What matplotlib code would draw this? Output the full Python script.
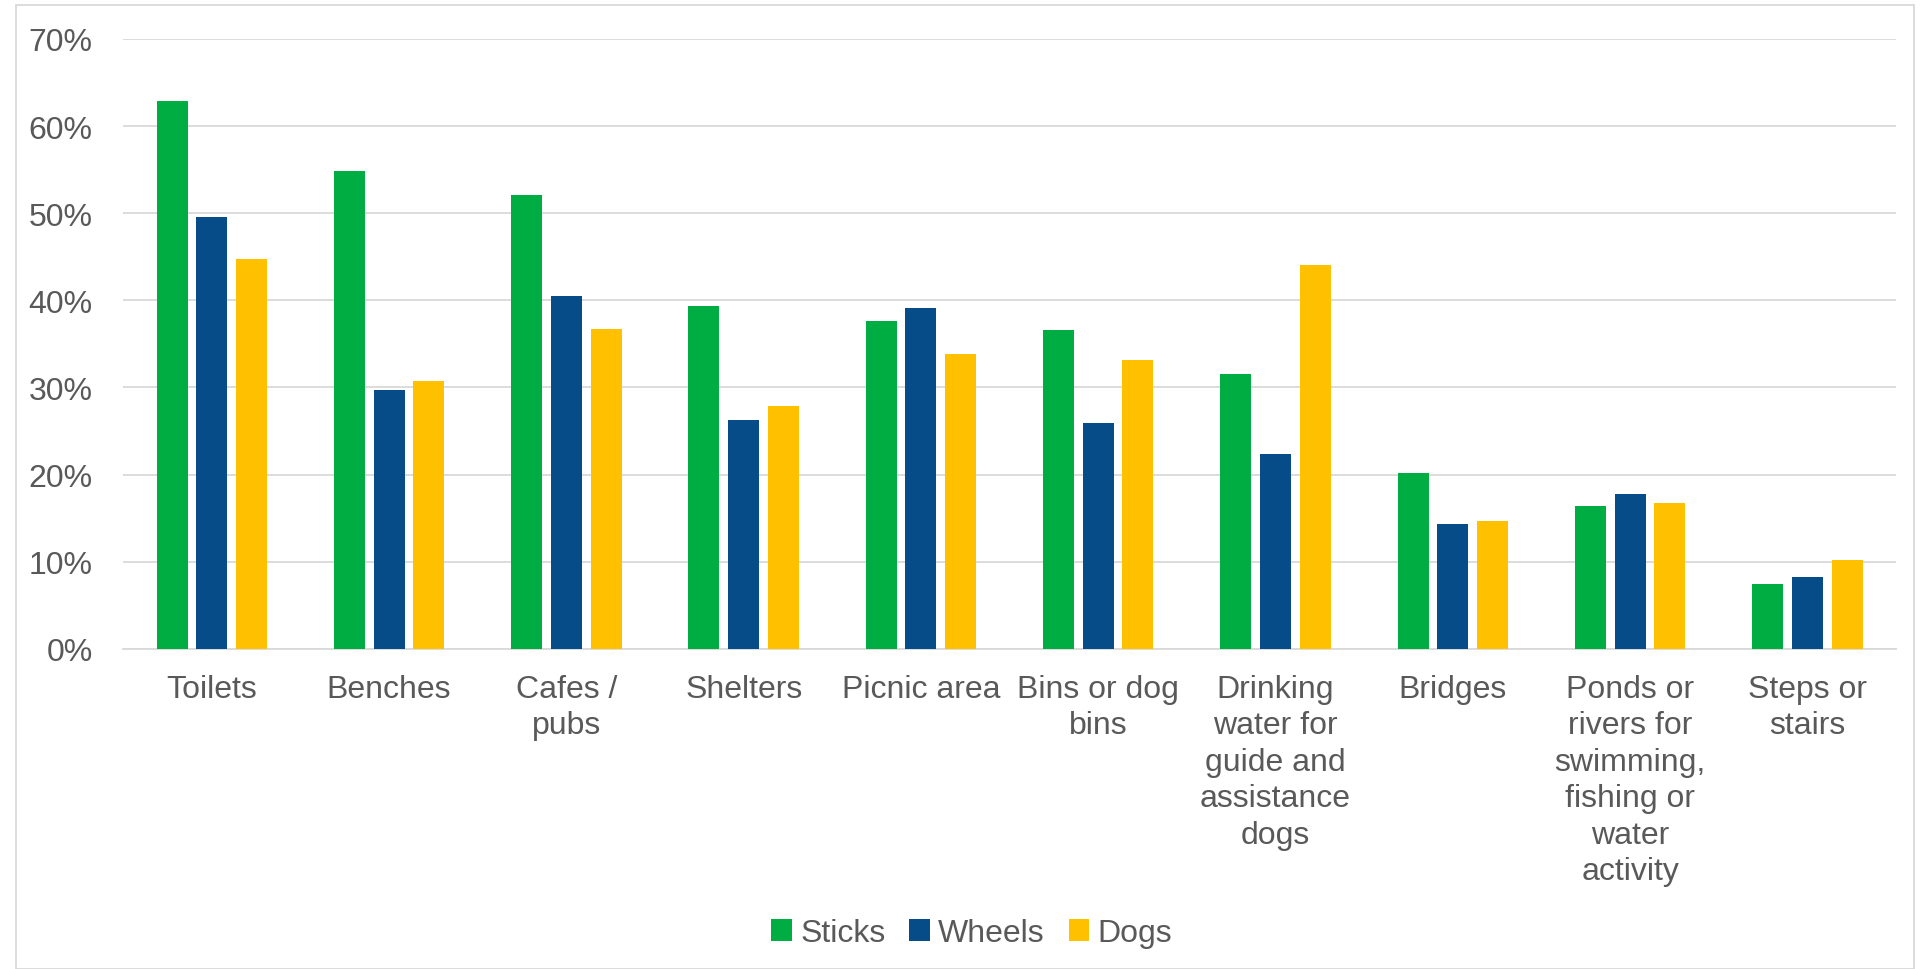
import numpy as np
import matplotlib.pyplot as plt
from matplotlib.patches import Rectangle
from matplotlib.ticker import PercentFormatter

plt.rcParams['font.family'] = ['Liberation Sans', 'DejaVu Sans']

# categorias y valores (fraccion de respuestas)
categorias = ["Toilets", "Benches", "Cafes /\npubs", "Shelters", "Picnic area",
              "Bins or dog\nbins", "Drinking\nwater for\nguide and\nassistance\ndogs",
              "Bridges", "Ponds or\nrivers for\nswimming,\nfishing or\nwater\nactivity",
              "Steps or\nstairs"]
sticks = [0.629, 0.549, 0.521, 0.394, 0.376, 0.366, 0.315, 0.202, 0.164, 0.075]
wheels = [0.496, 0.297, 0.405, 0.263, 0.391, 0.259, 0.224, 0.143, 0.178, 0.082]
dogs = [0.448, 0.308, 0.367, 0.279, 0.339, 0.331, 0.441, 0.147, 0.168, 0.102]

series = ["Sticks", "Wheels", "Dogs"]
colores = ["#00AD42", "#054C89", "#FFC000"]
gris_texto = "#595959"

fig = plt.figure(figsize=(19.24, 9.70), dpi=100)
ax = fig.add_axes([0.064, 0.33, 0.9215, 0.6288])

x = np.arange(len(categorias))
ancho = 0.175
paso = 0.224
for i, (valores, nombre, color) in enumerate(zip([sticks, wheels, dogs], series, colores)):
    ax.bar(x + (i - 1) * paso, valores, width=ancho, color=color, label=nombre, zorder=3)

ax.set_xlim(-0.5, len(categorias) - 0.5)
ax.set_ylim(0, 0.7)
ax.set_yticks(np.arange(0, 0.71, 0.1))
ax.yaxis.set_major_formatter(PercentFormatter(1.0, decimals=0))
ax.grid(axis="y", color="#D9D9D9", linewidth=1.3, zorder=0)
for lado in ["top", "right", "left"]:
    ax.spines[lado].set_visible(False)
ax.spines["bottom"].set_color("#D9D9D9")
ax.spines["bottom"].set_linewidth(1.3)

ax.set_xticks(x)
ax.set_xticklabels(categorias, fontsize=23, color=gris_texto, linespacing=1.28, va="top")
ax.tick_params(axis="x", length=0, pad=18)
ax.tick_params(axis="y", length=0, pad=22, labelsize=23, labelcolor=gris_texto)

leg = fig.legend(loc="center", bbox_to_anchor=(0.505, 0.037), ncol=3, frameon=False,
                 fontsize=23, handlelength=0.65, handleheight=0.65, handletextpad=0.25,
                 columnspacing=0.75)
for t in leg.get_texts():
    t.set_color(gris_texto)

# borde del grafico
fig.patches.append(Rectangle((16 / 1924, 0.0), 1898 / 1924, 964 / 970, transform=fig.transFigure,
                             fill=False, edgecolor="#D9D9D9", linewidth=1.3))

fig.savefig("out.png", dpi=100)
